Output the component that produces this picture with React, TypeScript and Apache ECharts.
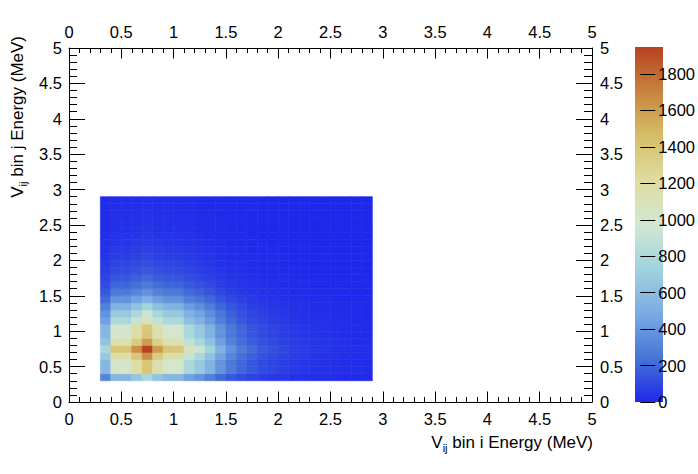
import React, { useEffect, useRef } from "react";
import * as echarts from "echarts";

// lower edges of the 0.1 MeV bins, same on both axes
const binLow = [
  0.3, 0.4, 0.5, 0.6, 0.7, 0.8, 0.9, 1.0, 1.1, 1.2, 1.3, 1.4, 1.5,
  1.6, 1.7, 1.8, 1.9, 2.0, 2.1, 2.2, 2.3, 2.4, 2.5, 2.6, 2.7, 2.8,
];
const binWidth = 0.1;

// V_ij, rows = bin j (y), columns = bin i (x)
const vij = [
  [312, 561, 561, 662, 779, 639, 561, 553, 436, 374, 296, 210, 148, 109, 82, 62, 51, 39, 31, 25, 20, 16, 13, 11, 8, 7],
  [561, 1010, 1010, 1192, 1403, 1150, 1010, 996, 786, 673, 533, 379, 266, 197, 148, 112, 91, 70, 56, 45, 37, 30, 24, 19, 15, 13],
  [561, 1010, 1010, 1192, 1403, 1150, 1010, 996, 786, 673, 533, 379, 266, 197, 148, 112, 91, 70, 56, 45, 37, 30, 24, 19, 15, 13],
  [662, 1192, 1192, 1408, 1656, 1357, 1192, 1176, 927, 795, 629, 447, 315, 232, 174, 133, 108, 82, 66, 53, 43, 35, 28, 23, 18, 15],
  [779, 1403, 1403, 1656, 1948, 1597, 1403, 1383, 1091, 935, 740, 526, 370, 273, 205, 156, 127, 97, 78, 62, 51, 41, 33, 27, 21, 18],
  [639, 1150, 1150, 1357, 1597, 1310, 1150, 1134, 895, 767, 607, 431, 303, 224, 168, 128, 104, 80, 64, 51, 42, 34, 27, 22, 17, 15],
  [561, 1010, 1010, 1192, 1403, 1150, 1010, 996, 786, 673, 533, 379, 266, 197, 148, 112, 91, 70, 56, 45, 37, 30, 24, 19, 15, 13],
  [553, 996, 996, 1176, 1383, 1134, 996, 982, 775, 664, 525, 373, 263, 194, 146, 111, 90, 69, 55, 44, 36, 29, 23, 19, 15, 13],
  [436, 786, 786, 927, 1091, 895, 786, 775, 611, 524, 414, 295, 207, 153, 115, 87, 71, 54, 44, 35, 29, 23, 18, 15, 12, 10],
  [374, 673, 673, 795, 935, 767, 673, 664, 524, 449, 355, 252, 178, 131, 98, 75, 61, 47, 37, 30, 24, 20, 16, 13, 10, 9],
  [296, 533, 533, 629, 740, 607, 533, 525, 414, 355, 281, 200, 141, 104, 78, 59, 48, 37, 30, 24, 19, 16, 13, 10, 8, 7],
  [210, 379, 379, 447, 526, 431, 379, 373, 295, 252, 200, 142, 100, 74, 55, 42, 34, 26, 21, 17, 14, 11, 9, 7, 6, 5],
  [148, 266, 266, 315, 370, 303, 266, 263, 207, 178, 141, 100, 70, 52, 39, 30, 24, 18, 15, 12, 10, 8, 6, 5, 4, 3],
  [109, 197, 197, 232, 273, 224, 197, 194, 153, 131, 104, 74, 52, 38, 29, 22, 18, 14, 11, 9, 7, 6, 5, 4, 3, 3],
  [82, 148, 148, 174, 205, 168, 148, 146, 115, 98, 78, 55, 39, 29, 22, 16, 13, 10, 8, 7, 5, 4, 3, 3, 2, 2],
  [62, 112, 112, 133, 156, 128, 112, 111, 87, 75, 59, 42, 30, 22, 16, 12, 10, 8, 6, 5, 4, 3, 3, 2, 2, 1],
  [51, 91, 91, 108, 127, 104, 91, 90, 71, 61, 48, 34, 24, 18, 13, 10, 8, 6, 5, 4, 3, 3, 2, 2, 1, 1],
  [39, 70, 70, 82, 97, 80, 70, 69, 54, 47, 37, 26, 18, 14, 10, 8, 6, 5, 4, 3, 3, 2, 2, 1, 1, 1],
  [31, 56, 56, 66, 78, 64, 56, 55, 44, 37, 30, 21, 15, 11, 8, 6, 5, 4, 3, 2, 2, 2, 1, 1, 1, 1],
  [25, 45, 45, 53, 62, 51, 45, 44, 35, 30, 24, 17, 12, 9, 7, 5, 4, 3, 2, 2, 2, 1, 1, 1, 1, 1],
  [20, 37, 37, 43, 51, 42, 37, 36, 29, 24, 19, 14, 10, 7, 5, 4, 3, 3, 2, 2, 1, 1, 1, 1, 1, 1],
  [16, 30, 30, 35, 41, 34, 30, 29, 23, 20, 16, 11, 8, 6, 4, 3, 3, 2, 2, 1, 1, 1, 1, 1, 1, 1],
  [13, 24, 24, 28, 33, 27, 24, 23, 18, 16, 13, 9, 6, 5, 3, 3, 2, 2, 1, 1, 1, 1, 1, 1, 1, 1],
  [11, 19, 19, 23, 27, 22, 19, 19, 15, 13, 10, 7, 5, 4, 3, 2, 2, 1, 1, 1, 1, 1, 1, 1, 1, 1],
  [8, 15, 15, 18, 21, 17, 15, 15, 12, 10, 8, 6, 4, 3, 2, 2, 1, 1, 1, 1, 1, 1, 1, 1, 1, 1],
  [7, 13, 13, 15, 18, 15, 13, 13, 10, 9, 7, 5, 3, 3, 2, 1, 1, 1, 1, 1, 1, 1, 1, 1, 1, 1],
];

const zMax = 1948;
const zTicks = [0, 200, 400, 600, 800, 1000, 1200, 1400, 1600, 1800];

// ROOT kLightTemperature
const palette = [
  "#1f28ea", "#4775d6", "#7babe4", "#a0d3de", "#d2e7d2",
  "#dedca0", "#d6be69", "#c7843c", "#b74122",
];

const FONT = "'Liberation Sans', Arial, sans-serif";
const titleText = "{m|V}{s|ij}{m| bin i Energy (MeV)}";
const titleRich = {
  m: { fontSize: 17, lineHeight: 23, fontFamily: FONT, fill: "#000" },
  s: { fontSize: 11, lineHeight: 11, fontFamily: FONT, fill: "#000", verticalAlign: "bottom" },
};

const black = { color: "#000", width: 1 };

function frameX(position: "bottom" | "top") {
  return {
    type: "value",
    gridIndex: 0,
    position,
    min: 0,
    max: 5,
    interval: 0.5,
    axisLine: { show: true, onZero: false, lineStyle: black },
    axisTick: { show: true, inside: true, length: 10.5, lineStyle: black },
    minorTick: { show: true, splitNumber: 5, length: 5, lineStyle: black },
    axisLabel: { color: "#000", fontSize: 16.5, fontFamily: FONT, margin: 8 },
    splitLine: { show: false },
  };
}

function frameY(position: "left" | "right") {
  return {
    type: "value",
    gridIndex: 0,
    position,
    min: 0,
    max: 5,
    interval: 0.5,
    axisLine: { show: true, onZero: false, lineStyle: black },
    axisTick: { show: true, inside: true, length: 16, lineStyle: black },
    minorTick: { show: true, splitNumber: 5, length: 8, lineStyle: black },
    axisLabel: { color: "#000", fontSize: 16.5, fontFamily: FONT, margin: position === "left" ? 7 : 8 },
    splitLine: { show: false },
  };
}

export default function App() {
  const chartRef = useRef<HTMLDivElement>(null);

  useEffect(() => {
    document.body.style.margin = "0";
    const chart = echarts.init(chartRef.current!, null, { renderer: "svg" });

    const cells: number[][] = [];
    vij.forEach((row, j) => {
      row.forEach((v, i) => {
        cells.push([binLow[i], binLow[j], v]);
      });
    });

    chart.setOption({
      animation: false,
      grid: [
        { left: 69, right: 106, top: 48, bottom: 72 },
        { left: 635, width: 28, top: 47, height: 355 },
      ],
      xAxis: [
        frameX("bottom"),
        frameX("top"),
        { type: "value", gridIndex: 1, show: false, min: 0, max: 1 },
      ],
      yAxis: [
        frameY("left"),
        frameY("right"),
        {
          type: "value",
          gridIndex: 1,
          position: "right",
          min: 0,
          max: zMax,
          axisLine: { show: false, onZero: false },
          axisTick: { show: true, inside: true, length: 15, lineStyle: black, customValues: zTicks },
          axisLabel: {
            color: "#000",
            fontSize: 16.5,
            fontFamily: FONT,
            margin: 3,
            customValues: zTicks,
            formatter: (v: number) => String(v),
          },
          splitLine: { show: false },
        },
      ],
      visualMap: {
        type: "continuous",
        show: false,
        min: 0,
        max: zMax,
        dimension: 2,
        seriesIndex: 0,
        inRange: { color: palette },
      },
      graphic: [
        {
          type: "rect",
          z: -1,
          shape: { x: 635, y: 47, width: 28, height: 355 },
          style: {
            fill: new echarts.graphic.LinearGradient(
              0, 1, 0, 0,
              palette.map((c, k) => ({ offset: k / (palette.length - 1), color: c }))
            ),
          },
        },
        {
          type: "text",
          x: 593,
          y: 442,
          style: {
            text: titleText,
            rich: titleRich,
            fill: "#000",
            align: "right",
            verticalAlign: "middle",
          },
        },
        {
          type: "text",
          x: 17,
          y: 36,
          rotation: Math.PI / 2,
          style: {
            text: titleText.replace("bin i", "bin j"),
            rich: titleRich,
            fill: "#000",
            align: "right",
            verticalAlign: "middle",
          },
        },
      ],
      series: [
        {
          type: "custom",
          xAxisIndex: 0,
          yAxisIndex: 0,
          encode: { x: 0, y: 1 },
          data: cells,
          renderItem: (params: any, api: any) => {
            const x = api.value(0);
            const y = api.value(1);
            const a = api.coord([x, y]);
            const b = api.coord([x + binWidth, y + binWidth]);
            const color = api.visual("color");
            return {
              type: "rect",
              shape: {
                x: a[0],
                y: b[1],
                width: b[0] - a[0],
                height: a[1] - b[1],
              },
              style: { fill: color, stroke: color, lineWidth: 0.6 },
            };
          },
        },
      ],
    });

    return () => {
      chart.dispose();
    };
  }, []);

  return <div ref={chartRef} style={{ width: "698px", height: "474px" }} />;
}
